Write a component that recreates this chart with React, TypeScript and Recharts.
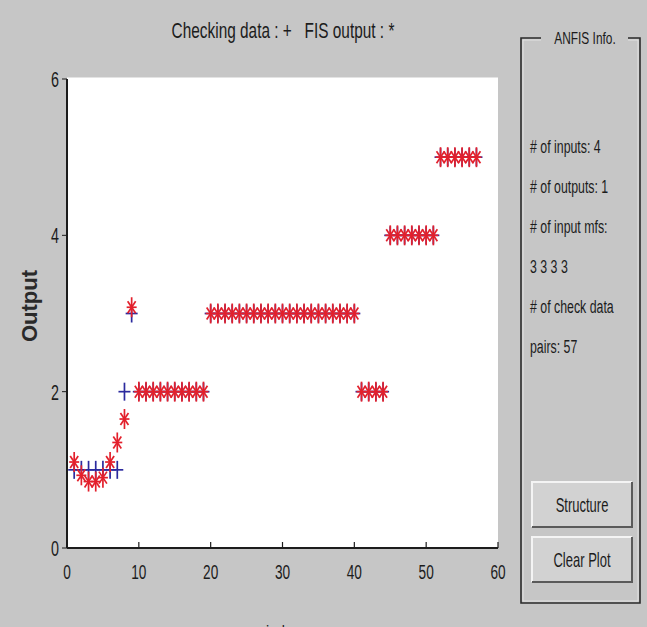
import { ScatterChart, Scatter, XAxis, YAxis, ReferenceArea } from 'recharts'

// sample index (57 check data pairs)
const index = [
  1, 2, 3, 4, 5, 6, 7, 8, 9, 10, 11, 12, 13, 14, 15, 16, 17, 18, 19, 20,
  21, 22, 23, 24, 25, 26, 27, 28, 29, 30, 31, 32, 33, 34, 35, 36, 37, 38, 39, 40,
  41, 42, 43, 44, 45, 46, 47, 48, 49, 50, 51, 52, 53, 54, 55, 56, 57,
]

// checking data (+)
const checkingData = [
  1, 1, 1, 1, 1, 1, 1, 2, 3, 2, 2, 2, 2, 2, 2, 2, 2, 2, 2, 3,
  3, 3, 3, 3, 3, 3, 3, 3, 3, 3, 3, 3, 3, 3, 3, 3, 3, 3, 3, 3,
  2, 2, 2, 2, 4, 4, 4, 4, 4, 4, 4, 5, 5, 5, 5, 5, 5,
]

// FIS output (*)
const fisOutput = [
  1.1, 0.93, 0.85, 0.85, 0.9, 1.1, 1.35, 1.65, 3.08, 2, 2, 2, 2, 2, 2, 2, 2, 2, 2, 3,
  3, 3, 3, 3, 3, 3, 3, 3, 3, 3, 3, 3, 3, 3, 3, 3, 3, 3, 3, 3,
  2, 2, 2, 2, 4, 4, 4, 4, 4, 4, 4, 5, 5, 5, 5, 5, 5,
]

const xTicks = [0, 10, 20, 30, 40, 50, 60]
const yTicks = [0, 2, 4, 6]

const infoLines = [
  '# of inputs: 4',
  '# of outputs: 1',
  '# of input mfs:',
  '3 3 3 3',
  '# of check data',
  'pairs: 57',
]
const buttons = ['Structure', 'Clear Plot']

const FONT = '"Liberation Sans", Arial, sans-serif'
const BG = '#c6c6c6'
const INK = '#1c1c1c'

const checkPoints = checkingData.map((v, i) => ({ x: index[i], y: v }))
const fisPoints = fisOutput.map((v, i) => ({ x: index[i], y: v }))

function Narrow({ x, y, size, children, anchor = 'middle', sx = 0.75, weight = 400, rotate = 0, fill = INK }: any) {
  return (
    <text
      transform={`translate(${x},${y}) rotate(${rotate}) scale(${sx},1)`}
      textAnchor={anchor}
      fontSize={size}
      fontWeight={weight}
      fontFamily={FONT}
      fill={fill}
      style={{ whiteSpace: 'pre' }}
    >
      {children}
    </text>
  )
}

const PlusMark = (props: any) => {
  const { cx, cy } = props
  return (
    <g stroke="#2b2a9e" strokeWidth={1.7}>
      <line x1={cx - 6} x2={cx + 6} y1={cy} y2={cy} />
      <line x1={cx} x2={cx} y1={cy - 9} y2={cy + 9} />
    </g>
  )
}

const StarMark = (props: any) => {
  const { cx, cy } = props
  return (
    <g stroke="#e3202c" strokeWidth={1.7}>
      <line x1={cx} x2={cx} y1={cy - 10} y2={cy + 10} />
      <line x1={cx - 5} x2={cx + 5} y1={cy} y2={cy} />
      <line x1={cx - 4} x2={cx + 4} y1={cy - 6} y2={cy + 6} />
      <line x1={cx - 4} x2={cx + 4} y1={cy + 6} y2={cy - 6} />
    </g>
  )
}

const XTick = (props: any) => {
  const { x, y, payload } = props
  return (
    <g>
      <line x1={x} x2={x} y1={y} y2={y - 6} stroke={INK} strokeWidth={1.2} />
      <Narrow x={x} y={y + 31} size={21} sx={0.65}>{payload.value}</Narrow>
    </g>
  )
}

const YTick = (props: any) => {
  const { x, y, payload } = props
  return <Narrow x={x} y={y + 8} size={22} anchor="end" sx={0.65}>{payload.value}</Narrow>
}

function InfoPanel() {
  return (
    <svg width={647} height={627} style={{ position: 'absolute', left: 0, top: 0, pointerEvents: 'none' }}>
      {/* title and axis labels */}
      <Narrow x={283} y={38} size={22} sx={0.7}>Checking data : +   FIS output : *</Narrow>
      <Narrow x={37} y={306} size={22} weight={700} sx={1} rotate={-90} fill="#2a2a2a">
        Output
      </Narrow>
      <Narrow x={283} y={638} size={19}>index</Narrow>

      {/* frame */}
      <path
        d="M 541 38 L 521 38 L 521 603 L 640 603 L 640 38 L 628 38"
        fill="none"
        stroke="#2a2a2a"
        strokeWidth={1.6}
      />
      <path
        d="M 541 40 L 523 40 L 523 601 L 638 601 L 638 40 L 628 40"
        fill="none"
        stroke="#e8e8e8"
        strokeWidth={0.8}
      />
      <Narrow x={585} y={44} size={17} sx={0.7}>ANFIS Info.</Narrow>

      {infoLines.map((t, i) => (
        <Narrow key={t} x={530} y={153 + i * 40} size={19} anchor="start" sx={0.65}>
          {t}
        </Narrow>
      ))}

      {buttons.map((b, i) => {
        const top = 482 + i * 55
        return (
          <g key={b}>
            <rect x={532} y={top} width={100} height={45} fill="#d2d2d2" />
            <path d={`M 532 ${top + 45} L 532 ${top} L 632 ${top}`} stroke="#f4f4f4" strokeWidth={2} fill="none" />
            <path d={`M 532 ${top + 45} L 632 ${top + 45} L 632 ${top}`} stroke="#5a5a5a" strokeWidth={2} fill="none" />
            <Narrow x={582} y={top + 30} size={20} sx={0.65}>{b}</Narrow>
          </g>
        )
      })}
    </svg>
  )
}

export default function App() {
  return (
    <div
      style={{
        position: 'absolute',
        left: 0,
        top: 0,
        width: 647,
        height: 627,
        overflow: 'hidden',
        background: BG,
      }}
    >
      <ScatterChart width={520} height={627} margin={{ top: 79, right: 22, bottom: 49, left: 27 }}>
        <ReferenceArea x1={0} x2={60} y1={0} y2={6.02} fill="#ffffff" fillOpacity={1} stroke="none" ifOverflow="visible" />
        <XAxis
          dataKey="x"
          type="number"
          domain={[0, 60]}
          ticks={xTicks}
          interval={0}
          height={30}
          tickSize={0}
          tickMargin={0}
          tick={<XTick />}
          axisLine={{ stroke: INK, strokeWidth: 2 }}
        />
        <YAxis
          dataKey="y"
          type="number"
          domain={[0, 6]}
          ticks={yTicks}
          interval={0}
          width={40}
          tickSize={5}
          tickMargin={3}
          tick={<YTick />}
          tickLine={{ stroke: INK }}
          axisLine={{ stroke: INK, strokeWidth: 2 }}
        />
        <Scatter data={checkPoints} shape={PlusMark} isAnimationActive={false} />
        <Scatter data={fisPoints} shape={StarMark} isAnimationActive={false} />
      </ScatterChart>
      <InfoPanel />
    </div>
  )
}
